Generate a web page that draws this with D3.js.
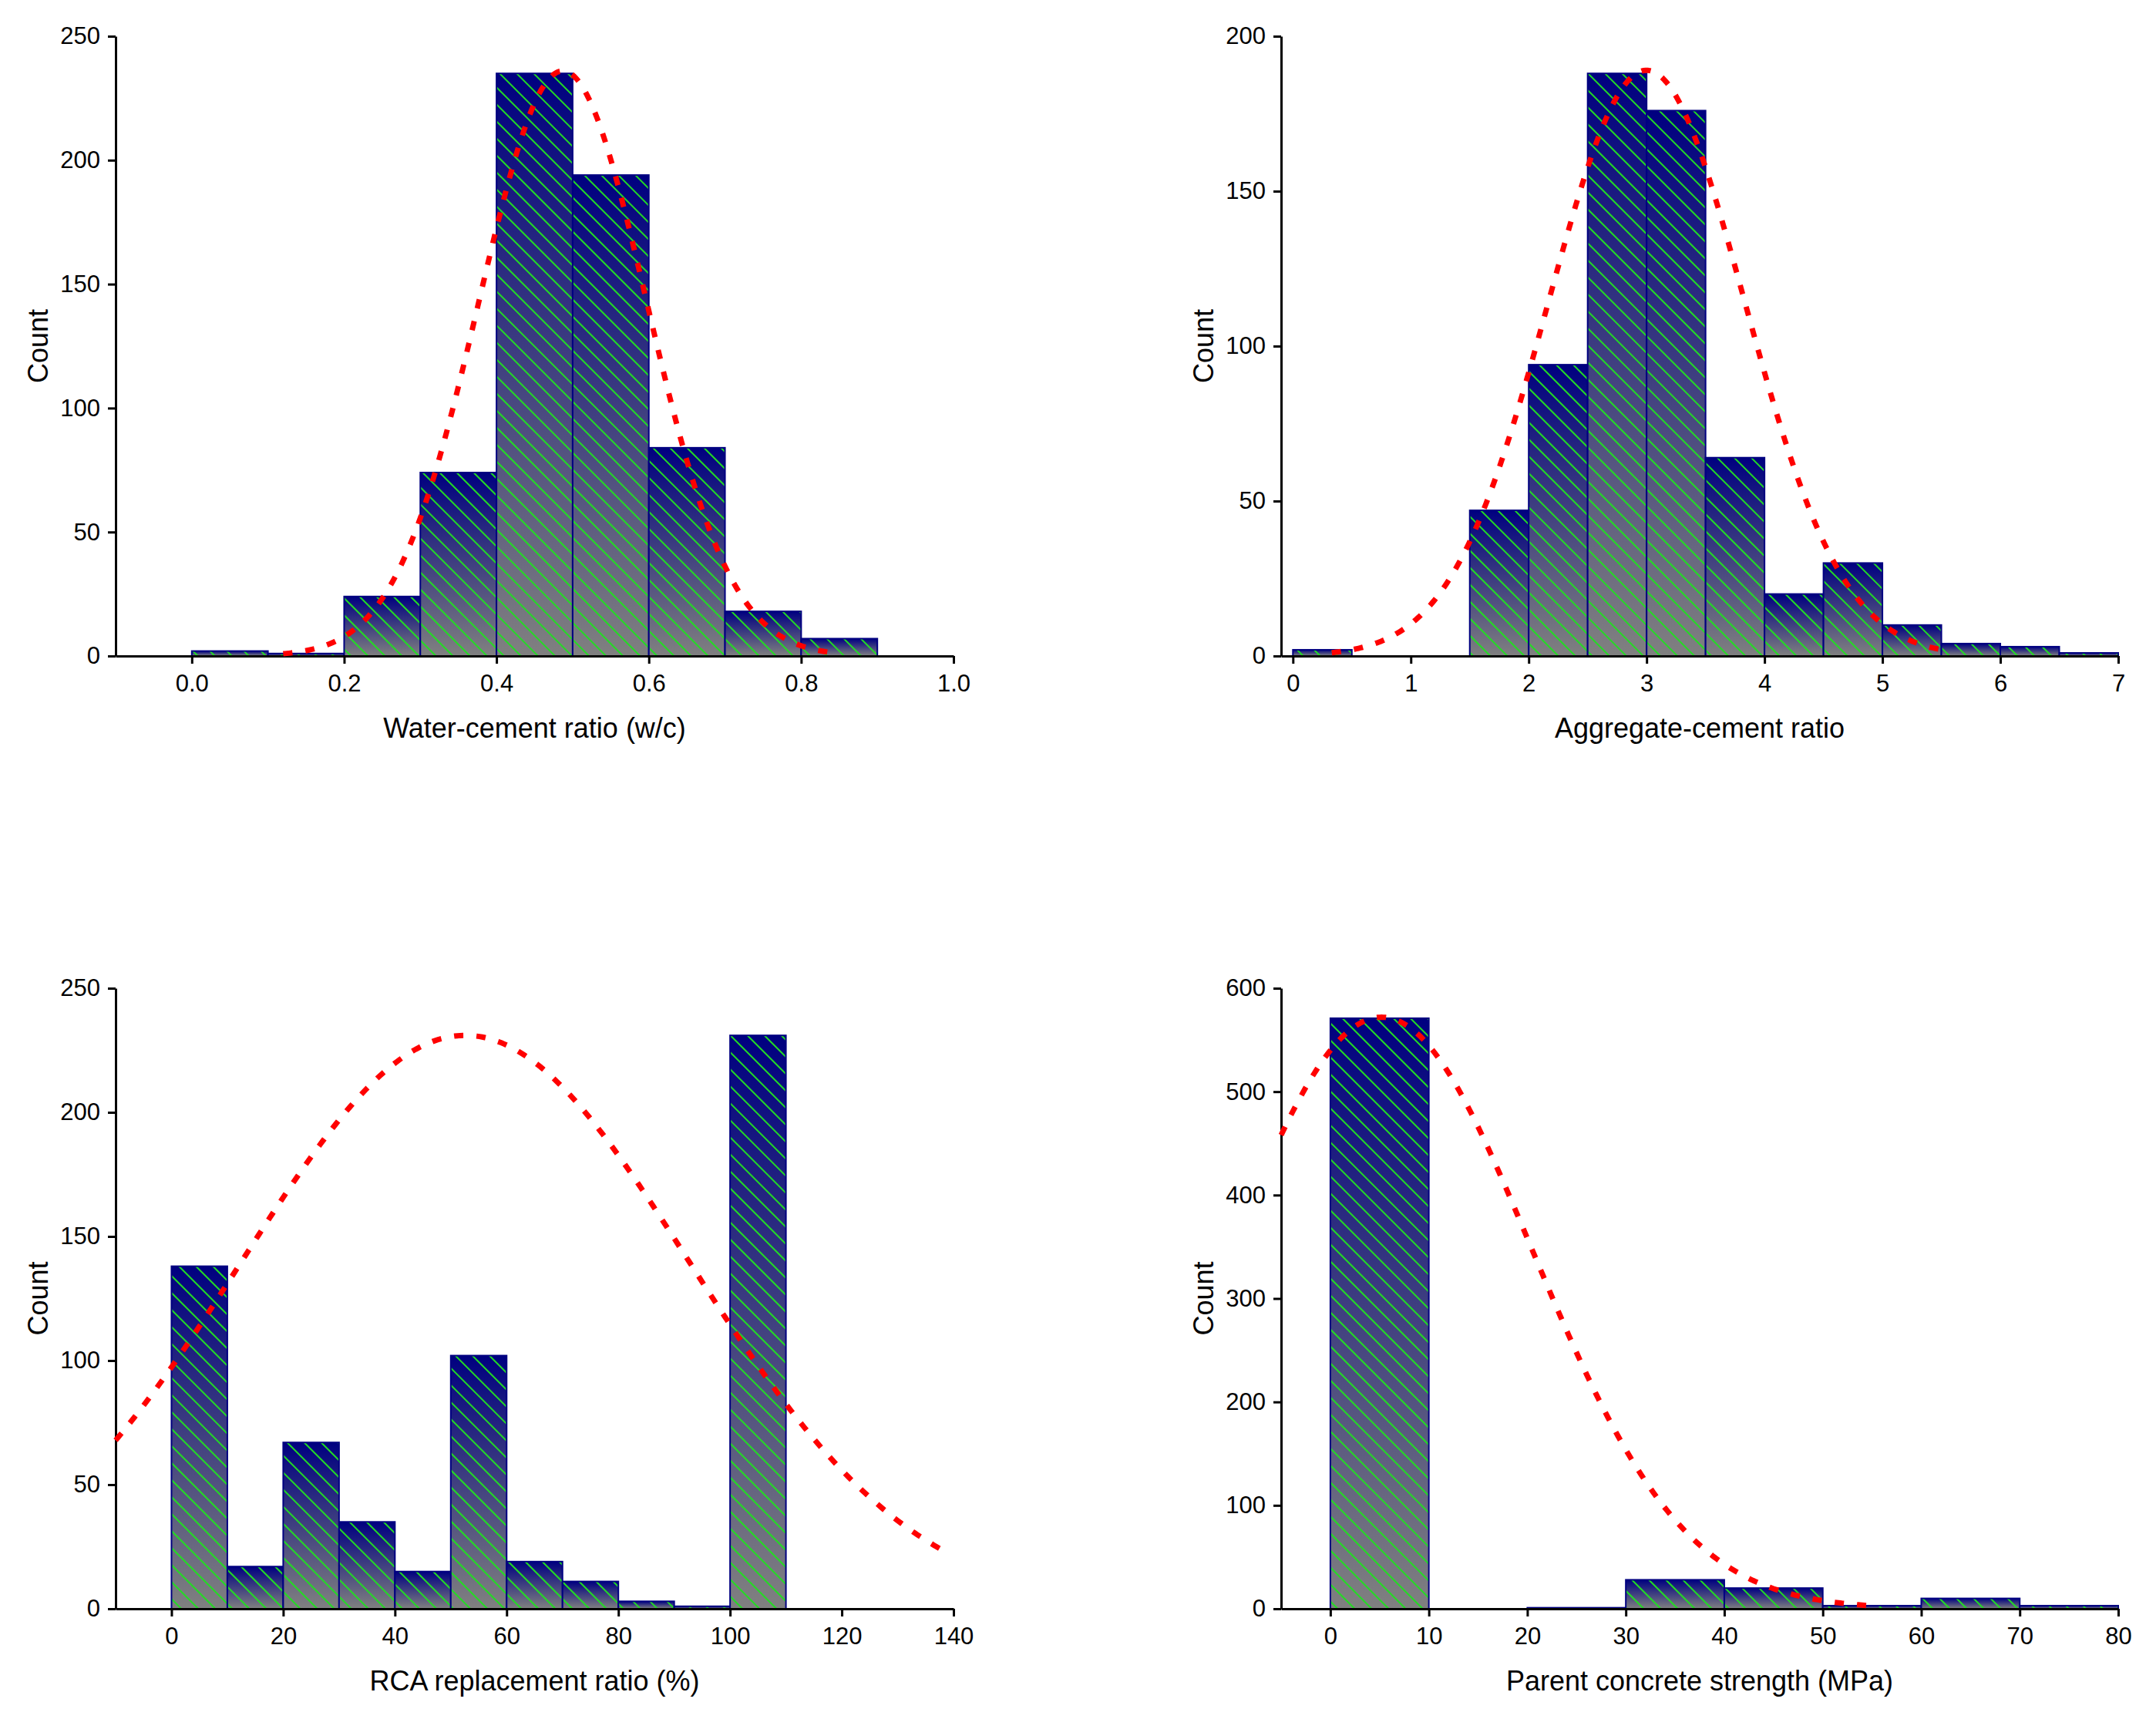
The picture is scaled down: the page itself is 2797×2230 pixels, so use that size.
<!DOCTYPE html>
<html>
<head>
<meta charset="utf-8">
<script src="https://cdn.jsdelivr.net/npm/d3@7"></script>
<style>
    body { margin: 0; background: #fff; }
    svg { display: block; font-family: "Liberation Sans", Arial, sans-serif; }
</style>
</head>
<body>
<svg id="chart" width="2797" height="2230"></svg>
<script>
// water-cement ratio histogram
const wcEdges = [0, 0.1, 0.2, 0.3, 0.4, 0.5, 0.6, 0.7, 0.8, 0.9];
const wcCounts = [2, 1, 24, 74, 235, 194, 84, 18, 7];
const wcXTicks = [0, 0.2, 0.4, 0.6, 0.8, 1.0];
const wcYTicks = [0, 50, 100, 150, 200, 250];

// aggregate-cement ratio histogram
const acEdges = [0, 0.5, 1, 1.5, 2, 2.5, 3, 3.5, 4, 4.5, 5, 5.5, 6, 6.5, 7];
const acCounts = [2, 0, 0, 47, 94, 188, 176, 64, 20, 30, 10, 4, 3, 1];
const acXTicks = [0, 1, 2, 3, 4, 5, 6, 7];
const acYTicks = [0, 50, 100, 150, 200];

// RCA replacement ratio histogram
const rcaEdges = [0, 10, 20, 30, 40, 50, 60, 70, 80, 90, 100, 110];
const rcaCounts = [138, 17, 67, 35, 15, 102, 19, 11, 3, 1, 231];
const rcaXTicks = [0, 20, 40, 60, 80, 100, 120, 140];
const rcaYTicks = [0, 50, 100, 150, 200, 250];

// parent concrete strength histogram
const pcsEdges = [0, 10, 20, 30, 40, 50, 60, 70, 80];
const pcsCounts = [571, 0, 1, 28, 20, 3, 10, 3];
const pcsXTicks = [0, 10, 20, 30, 40, 50, 60, 70, 80];
const pcsYTicks = [0, 100, 200, 300, 400, 500, 600];

// normal fit curves (one entry per panel: w/c, a/c, RCA, parent strength)
const fitMean = [0.487, 3.0, 52.6, 5.2];
const fitSd = [0.11, 0.83, 40, 15.3];
const fitPeak = [236, 189, 231, 572];
const fitFrom = [0.12, 0.33, -10, -5];
const fitTo = [0.85, 5.55, 138, 55];

const xTitles = ["Water-cement ratio (w/c)", "Aggregate-cement ratio",
    "RCA replacement ratio (%)", "Parent concrete strength (MPa)"];

let svg = d3.select("#chart");

/**
 * Adds the gradient and hatch fills used by every bar
 */
function defsInit() {
    let defs = svg.append("defs");
    let grad = defs.append("linearGradient")
        .attr("id", "barGrad")
        .attr("x1", 0).attr("y1", 0)
        .attr("x2", 0).attr("y2", 1);
    grad.append("stop").attr("offset", "0%").attr("stop-color", "#000080");
    grad.append("stop").attr("offset", "100%").attr("stop-color", "#808080");

    let hatch = defs.append("pattern")
        .attr("id", "hatch")
        .attr("patternUnits", "userSpaceOnUse")
        .attr("width", 15.6)
        .attr("height", 15.6)
        .attr("patternTransform", "rotate(-45)");
    hatch.append("rect")
        .attr("x", 0).attr("y", 0)
        .attr("width", 2).attr("height", 15.6)
        .attr("fill", "#22dd22");
}

/**
 * Draws one histogram panel with axes and its normal fit
 * @param p panel settings
 */
function drawPanel(p) {
    let x = d3.scaleLinear().domain(p.xDomain).range([p.left, p.right]);
    let y = d3.scaleLinear().domain([0, p.yTicks[p.yTicks.length - 1]]).range([p.bottom, p.top]);

    let bins = p.counts.map(function (c, i) {
        return {x0: p.edges[i], x1: p.edges[i + 1], n: c};
    }).filter(function (d) { return d.n > 0; });

    let g = svg.append("g");
    let bars = g.selectAll(".bar").data(bins).enter().append("g").attr("class", "bar");
    ["url(#barGrad)", "url(#hatch)"].forEach(function (f) {
        bars.append("rect")
            .attr("x", function (d) { return x(d.x0); })
            .attr("y", function (d) { return y(d.n); })
            .attr("width", function (d) { return x(d.x1) - x(d.x0); })
            .attr("height", function (d) { return y(0) - y(d.n); })
            .attr("fill", f);
    });
    bars.append("rect")
        .attr("x", function (d) { return x(d.x0); })
        .attr("y", function (d) { return y(d.n); })
        .attr("width", function (d) { return x(d.x1) - x(d.x0); })
        .attr("height", function (d) { return y(0) - y(d.n); })
        .attr("fill", "none")
        .attr("stroke", "#000080")
        .attr("stroke-width", 2);

    //axes
    let xAxis = d3.axisBottom(x).tickValues(p.xTicks).tickFormat(p.fmt)
        .tickSize(10).tickSizeOuter(0).tickPadding(14);
    let yAxis = d3.axisLeft(y).tickValues(p.yTicks).tickFormat(d3.format("d"))
        .tickSize(10).tickSizeOuter(0).tickPadding(10);

    g.append("g").attr("transform", "translate(0," + p.bottom + ")").call(xAxis);
    g.append("g").attr("transform", "translate(" + p.left + ",0)").call(yAxis);
    g.selectAll(".domain, .tick line").attr("stroke", "#000").attr("stroke-width", 3);
    g.selectAll(".tick text").attr("font-size", 31).attr("fill", "#000")
        .attr("font-family", "Liberation Sans, Arial, sans-serif");

    g.append("text")
        .attr("x", (p.left + p.right) / 2)
        .attr("y", p.bottom + 106)
        .attr("text-anchor", "middle")
        .attr("font-size", 36)
        .text(p.title);

    g.append("text")
        .attr("transform", "translate(" + (p.left - 88) + "," + (p.top + p.bottom) / 2 + ") rotate(-90)")
        .attr("text-anchor", "middle")
        .attr("font-size", 36)
        .text("Count");

    //normal fit
    let i = p.fit;
    let step = (fitTo[i] - fitFrom[i]) / 300;
    let pts = d3.range(fitFrom[i], fitTo[i] + step / 2, step);
    let line = d3.line()
        .x(function (v) { return x(v); })
        .y(function (v) {
            let z = (v - fitMean[i]) / fitSd[i];
            return y(fitPeak[i] * Math.exp(-0.5 * z * z));
        });
    g.append("path")
        .datum(pts)
        .attr("d", line)
        .attr("fill", "none")
        .attr("stroke", "#ff0000")
        .attr("stroke-width", 7)
        .attr("stroke-dasharray", "12,17");
}

defsInit();

let panels = [
    {edges: wcEdges, counts: wcCounts, xTicks: wcXTicks, yTicks: wcYTicks, xDomain: [-0.1, 1.0],
        fmt: d3.format(".1f"), left: 150, right: 1237, top: 47, bottom: 851, title: xTitles[0], fit: 0},
    {edges: acEdges, counts: acCounts, xTicks: acXTicks, yTicks: acYTicks, xDomain: [-0.1, 7],
        fmt: d3.format("d"), left: 1662, right: 2748, top: 47, bottom: 851, title: xTitles[1], fit: 1},
    {edges: rcaEdges, counts: rcaCounts, xTicks: rcaXTicks, yTicks: rcaYTicks, xDomain: [-10, 140],
        fmt: d3.format("d"), left: 150, right: 1237, top: 1282, bottom: 2087, title: xTitles[2], fit: 2},
    {edges: pcsEdges, counts: pcsCounts, xTicks: pcsXTicks, yTicks: pcsYTicks, xDomain: [-5, 80],
        fmt: d3.format("d"), left: 1662, right: 2748, top: 1282, bottom: 2087, title: xTitles[3], fit: 3}
];
panels.forEach(drawPanel);
</script>
</body>
</html>
